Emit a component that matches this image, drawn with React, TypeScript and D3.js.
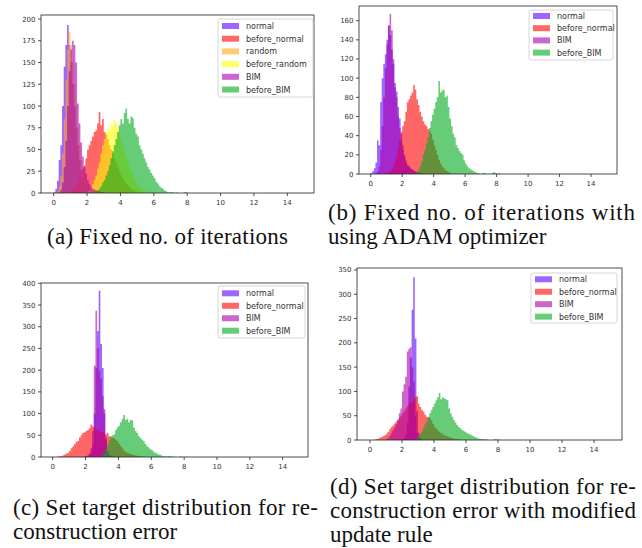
import React from 'react';
import * as d3 from 'd3';

// ---------- data (bin width 0.1, counts) ----------
const BIN_WIDTH = 0.1;
const xTickValues = [0, 2, 4, 6, 8, 10, 12, 14];

// (a) Fixed no. of iterations
const aNormalStart = 0.0;
const aNormal = [1, 5, 14, 38, 55, 100, 145, 170, 193, 170, 150, 125, 100, 75, 55, 38, 26, 18, 12, 9, 7, 5, 4, 3, 3, 2, 2, 1, 1, 1];
const aBeforeNormalStart = 1.0;
const aBeforeNormal = [2, 4, 7, 10, 14, 18, 24, 28, 32, 40, 50, 55, 60, 65, 70, 72, 80, 93, 78, 85, 70, 68, 62, 55, 50, 45, 40, 35, 30, 25, 20, 17, 14, 11, 9, 7, 5, 4, 3, 2, 1];
const aRandomStart = 0.2;
const aRandom = [2, 8, 20, 45, 85, 130, 165, 185, 170, 150, 125, 100, 75, 55, 38, 25, 16, 10, 7, 5, 3, 2, 1];
const aBeforeRandomStart = 2.0;
const aBeforeRandom = [2, 4, 7, 10, 15, 20, 28, 35, 45, 55, 62, 70, 74, 72, 80, 78, 85, 82, 75, 68, 60, 55, 48, 42, 36, 30, 25, 20, 16, 12, 9, 7, 5, 4, 3, 2, 2, 1, 1];
const aBimStart = 0.3;
const aBim = [1, 4, 12, 30, 60, 100, 140, 165, 175, 170, 150, 103, 80, 58, 42, 30, 22, 15, 10, 7, 5, 4, 3, 2, 2, 1, 1, 1];
const aBeforeBimStart = 2.4;
const aBeforeBim = [1, 2, 3, 5, 8, 12, 15, 20, 25, 32, 40, 48, 55, 62, 70, 78, 85, 80, 92, 97, 85, 80, 88, 86, 75, 68, 65, 55, 50, 45, 40, 35, 30, 27, 23, 20, 17, 13, 11, 8, 6, 5, 3, 2, 1, 1, 1, 1, 0, 1, 0, 0, 0, 0, 1, 1];
const aYTicks = [0, 25, 50, 75, 100, 125, 150, 175, 200];

// (b) Fixed no. of iterations with ADAM
const bNormalStart = 0.0;
const bNormal = [1, 3, 6, 12, 35, 30, 75, 100, 115, 125, 140, 155, 145, 130, 115, 95, 86, 70, 58, 42, 30, 20, 14, 10, 8, 6, 5, 4, 3, 2, 2, 1, 1];
const bBeforeNormalStart = 1.0;
const bBeforeNormal = [1, 2, 3, 5, 8, 12, 18, 25, 35, 44, 50, 55, 65, 75, 78, 82, 85, 93, 88, 78, 72, 65, 60, 55, 52, 50, 47, 45, 42, 36, 30, 25, 20, 15, 11, 8, 6, 4, 3, 2, 1];
const bBimStart = 0.3;
const bBim = [1, 3, 8, 25, 50, 80, 110, 135, 155, 167, 150, 120, 90, 80, 60, 48, 35, 25, 18, 12, 9, 7, 5, 4, 3, 2, 2, 1];
const bBeforeBimStart = 2.8;
const bBeforeBim = [1, 2, 4, 8, 13, 20, 25, 32, 38, 48, 55, 62, 68, 75, 80, 97, 85, 87, 88, 80, 82, 70, 58, 50, 42, 38, 30, 27, 24, 22, 20, 14, 11, 8, 6, 5, 4, 3, 2, 1, 1, 0, 0, 1, 1, 0, 0, 0, 0, 1, 2, 1, 0, 1];
const bYTicks = [0, 20, 40, 60, 80, 100, 120, 140, 160];

// (c) Set target distribution
const cNormalStart = 2.0;
const cNormal = [1, 2, 5, 10, 30, 100, 205, 290, 383, 260, 205, 110, 45, 15, 6, 3, 1];
const cBeforeNormalStart = 0.3;
const cBeforeNormal = [1, 2, 2, 4, 6, 8, 10, 14, 20, 25, 30, 35, 37, 45, 50, 55, 57, 60, 62, 66, 75, 70, 68, 65, 62, 60, 58, 56, 54, 52, 55, 48, 45, 44, 44, 40, 36, 30, 25, 20, 15, 12, 10, 8, 7, 6, 5, 4, 3, 2, 2, 1, 1];
const cBimStart = 1.9;
const cBim = [1, 2, 4, 8, 20, 60, 210, 337, 250, 200, 180, 140, 100, 40, 12, 5, 3, 2, 1];
const cBeforeBimStart = 2.8;
const cBeforeBim = [1, 2, 5, 10, 18, 28, 38, 48, 50, 52, 62, 68, 72, 80, 88, 97, 85, 88, 80, 85, 84, 68, 60, 55, 48, 44, 40, 36, 30, 25, 22, 18, 16, 12, 10, 8, 6, 5, 3, 2, 2, 1, 2, 2, 1, 1, 0, 0, 0, 1, 1, 0, 0, 1];
const cYTicks = [0, 50, 100, 150, 200, 250, 300, 350, 400];

// (d) Set target distribution with modified update rule
const dNormalStart = 2.0;
const dNormal = [1, 3, 10, 35, 110, 170, 268, 335, 209, 60, 15, 4, 1];
const dBeforeNormalStart = 0.3;
const dBeforeNormal = [1, 2, 3, 5, 6, 8, 10, 13, 17, 22, 27, 30, 34, 38, 42, 46, 50, 55, 60, 65, 70, 75, 78, 80, 85, 88, 90, 75, 68, 62, 58, 52, 48, 46, 45, 40, 33, 27, 23, 20, 17, 14, 12, 10, 9, 7, 6, 5, 4, 3, 2, 2, 1, 1];
const dBimStart = 1.0;
const dBim = [2, 4, 8, 14, 20, 26, 32, 40, 55, 65, 100, 115, 130, 182, 188, 191, 150, 120, 50, 15, 5, 2, 1];
const dBeforeBimStart = 2.8;
const dBeforeBim = [2, 4, 7, 12, 17, 25, 32, 38, 48, 55, 62, 68, 75, 82, 88, 97, 84, 88, 86, 84, 82, 65, 55, 48, 41, 36, 31, 27, 24, 21, 19, 17, 15, 13, 12, 10, 8, 6, 5, 3, 3, 2, 2, 2, 1, 1, 0, 0, 0, 1, 2, 1, 1];
const dYTicks = [0, 50, 100, 150, 200, 250, 300, 350];

// ---------- styling ----------
const COLORS: Record<string, string> = {
  normal: 'rgb(90,0,255)',
  before_normal: 'rgb(255,0,0)',
  random: 'rgb(255,170,20)',
  before_random: 'rgb(255,255,0)',
  BIM: 'rgb(170,0,170)',
  before_BIM: 'rgb(0,170,30)',
};
const ALPHA = 0.6;

type Series = { name: string; start: number; counts: number[] };
type PanelCfg = {
  left: number; right: number; top: number; bottom: number;
  xDomain: [number, number]; yMax: number; yTicks: number[];
  series: Series[];
  legend: { x: number; y: number; w: number; h: number; first: number; step: number };
};

const panels: PanelCfg[] = [
  {
    left: 41, right: 314, top: 15, bottom: 193,
    xDomain: [-0.761, 15.6], yMax: 204.6, yTicks: aYTicks,
    series: [
      { name: 'normal', start: aNormalStart, counts: aNormal },
      { name: 'before_normal', start: aBeforeNormalStart, counts: aBeforeNormal },
      { name: 'random', start: aRandomStart, counts: aRandom },
      { name: 'before_random', start: aBeforeRandomStart, counts: aBeforeRandom },
      { name: 'BIM', start: aBimStart, counts: aBim },
      { name: 'before_BIM', start: aBeforeBimStart, counts: aBeforeBim },
    ],
    legend: { x: 218, y: 19, w: 95, h: 78, first: 7, step: 12.7 },
  },
  {
    left: 359, right: 617, top: 6, bottom: 174,
    xDomain: [-0.744, 15.65], yMax: 175.3, yTicks: bYTicks,
    series: [
      { name: 'normal', start: bNormalStart, counts: bNormal },
      { name: 'before_normal', start: bBeforeNormalStart, counts: bBeforeNormal },
      { name: 'BIM', start: bBimStart, counts: bBim },
      { name: 'before_BIM', start: bBeforeBimStart, counts: bBeforeBim },
    ],
    legend: { x: 529, y: 10, w: 84, h: 50, first: 6, step: 12.2 },
  },
  {
    left: 41, right: 308, top: 283, bottom: 457,
    xDomain: [-0.712, 15.54], yMax: 400.7, yTicks: cYTicks,
    series: [
      { name: 'normal', start: cNormalStart, counts: cNormal },
      { name: 'before_normal', start: cBeforeNormalStart, counts: cBeforeNormal },
      { name: 'BIM', start: cBimStart, counts: cBim },
      { name: 'before_BIM', start: cBeforeBimStart, counts: cBeforeBim },
    ],
    legend: { x: 218, y: 286, w: 87, h: 52, first: 7.3, step: 12.47 },
  },
  {
    left: 357, right: 622, top: 268, bottom: 440,
    xDomain: [-0.8125, 15.75], yMax: 354.1, yTicks: dYTicks,
    series: [
      { name: 'normal', start: dNormalStart, counts: dNormal },
      { name: 'before_normal', start: dBeforeNormalStart, counts: dBeforeNormal },
      { name: 'BIM', start: dBimStart, counts: dBim },
      { name: 'before_BIM', start: dBeforeBimStart, counts: dBeforeBim },
    ],
    legend: { x: 531, y: 273, w: 86, h: 50, first: 6.3, step: 12.45 },
  },
];

type CaptionLine = { text: string; x: number; y: number; width?: number };
const captionLines: CaptionLine[] = [
  { text: '(a) Fixed no. of iterations', x: 47, y: 244, width: 241 },
  { text: '(b) Fixed no. of iterations with', x: 328, y: 220, width: 307 },
  { text: 'using ADAM optimizer', x: 328, y: 244 },
  { text: '(c) Set target distribution for re-', x: 13, y: 515, width: 305 },
  { text: 'construction error', x: 13, y: 539 },
  { text: '(d) Set target distribution for re-', x: 330, y: 494, width: 306 },
  { text: 'construction error with modified', x: 330, y: 518, width: 306 },
  { text: 'update rule', x: 330, y: 542 },
];

const TICK_FONT = "'DejaVu Sans', sans-serif";
const CAPTION_FONT = "'Times New Roman', 'Liberation Serif', Times, serif";

function Panel({ cfg }: { cfg: PanelCfg }) {
  const x = d3.scaleLinear().domain(cfg.xDomain).range([cfg.left, cfg.right]);
  const y = d3.scaleLinear().domain([0, cfg.yMax]).range([cfg.bottom, cfg.top]);
  const area = d3
    .area<[number, number]>()
    .x((d) => x(d[0]))
    .y0(y(0))
    .y1((d) => y(d[1]))
    .curve(d3.curveStepAfter);

  const paths = cfg.series.map((s) => {
    const pts: [number, number][] = s.counts.map((c, i) => [s.start + i * BIN_WIDTH, c]);
    pts.push([s.start + s.counts.length * BIN_WIDTH, s.counts[s.counts.length - 1]]);
    return { name: s.name, d: area(pts) || '' };
  });

  const lg = cfg.legend;
  return (
    <g>
      {paths.map((p) => (
        <path key={p.name} d={p.d} fill={COLORS[p.name]} fillOpacity={ALPHA} stroke="none" />
      ))}
      <rect
        x={cfg.left}
        y={cfg.top}
        width={cfg.right - cfg.left}
        height={cfg.bottom - cfg.top}
        fill="none"
        stroke="#222"
        strokeWidth={0.8}
      />
      {xTickValues.map((t) => (
        <g key={'x' + t}>
          <line x1={x(t)} x2={x(t)} y1={cfg.bottom} y2={cfg.bottom + 3} stroke="#222" strokeWidth={0.8} />
          <text x={x(t)} y={cfg.bottom + 11.5} fontSize={7} fontFamily={TICK_FONT} fill="#333" textAnchor="middle">
            {t}
          </text>
        </g>
      ))}
      {cfg.yTicks.map((t) => (
        <g key={'y' + t}>
          <line x1={cfg.left - 3} x2={cfg.left} y1={y(t)} y2={y(t)} stroke="#222" strokeWidth={0.8} />
          <text x={cfg.left - 5.5} y={y(t) + 2.5} fontSize={7} fontFamily={TICK_FONT} fill="#333" textAnchor="end">
            {t}
          </text>
        </g>
      ))}
      <rect x={lg.x} y={lg.y} width={lg.w} height={lg.h} rx={2} fill="#fff" fillOpacity={0.8} stroke="#cccccc" strokeWidth={0.8} />
      {cfg.series.map((s, i) => {
        const cy = lg.y + lg.first + i * lg.step;
        return (
          <g key={'lg' + s.name}>
            <rect x={lg.x + 4} y={cy - 3} width={17} height={6} fill={COLORS[s.name]} fillOpacity={ALPHA} />
            <text x={lg.x + 28} y={cy + 3} fontSize={8} fontFamily={TICK_FONT} fill="#333">
              {s.name}
            </text>
          </g>
        );
      })}
    </g>
  );
}

export default function App() {
  return (
    <svg
      width={642}
      height={548}
      viewBox="0 0 642 548"
      style={{ position: 'absolute', left: 0, top: 0, background: '#fff' }}
    >
      <rect x={0} y={0} width={642} height={548} fill="#fff" />
      {panels.map((p, i) => (
        <Panel key={i} cfg={p} />
      ))}
      {captionLines.map((c, i) => (
        <text
          key={i}
          x={c.x}
          y={c.y}
          fontSize={23}
          fontFamily={CAPTION_FONT}
          fill="#111"
          {...(c.width ? { textLength: c.width, lengthAdjust: 'spacing' } : {})}
        >
          {c.text}
        </text>
      ))}
    </svg>
  );
}
